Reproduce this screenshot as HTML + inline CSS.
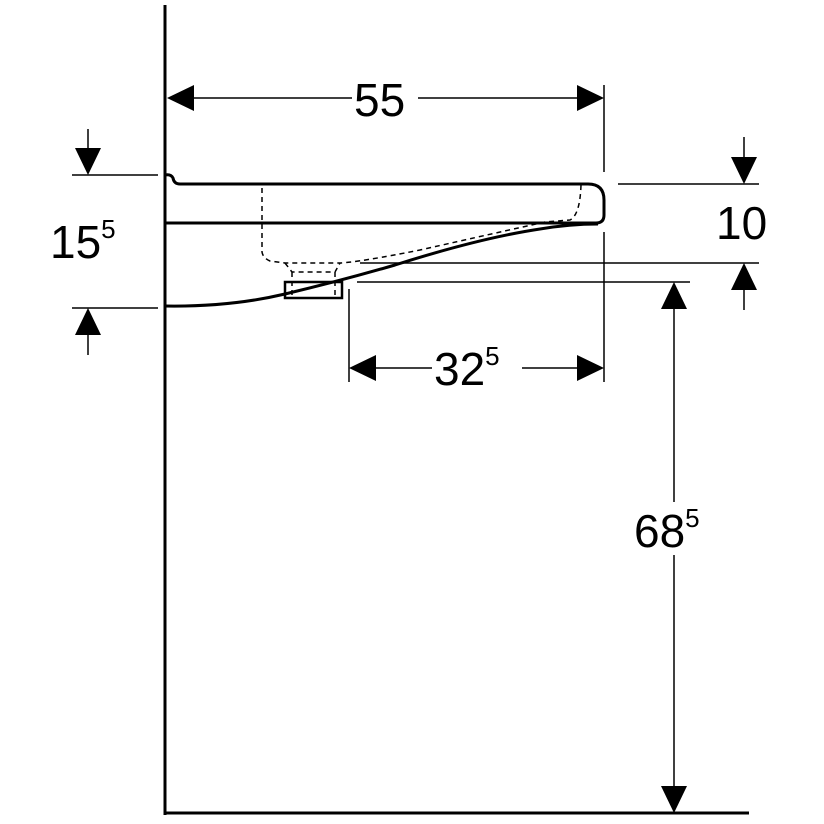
<!DOCTYPE html>
<html><head><style>html,body{margin:0;padding:0;background:#fff}svg{display:block}text{font-family:"Liberation Sans",sans-serif;fill:#000}</style></head>
<body>
<svg width="824" height="824" viewBox="0 0 824 824" xmlns="http://www.w3.org/2000/svg">
<g stroke="#000" fill="none">
<line x1="165" y1="5" x2="165" y2="815" stroke-width="3"/>
<line x1="164" y1="813" x2="749" y2="813" stroke-width="3"/>
<path d="M165 175 Q171 174 173 178 Q174 184 180 184 L588 184 Q604 184 604 200 L604 215 Q604 223 596 223 L165 223" stroke-width="3"/>
<path d="M165 306 Q230 307 285 294 Q340 281 395 265 Q480 238 540 229 Q570 224 598 224" stroke-width="3"/>
<rect x="285" y="282" width="57" height="16" stroke-width="2.5"/>
<g stroke-width="1.5" stroke-dasharray="5,4">
<path d="M262 188 L262 252 Q263 258 270 261 L285 263 L340 263 Q360 262 420 250 Q500 232 545 222 L570 220 Q580 215 581 185"/>
<path d="M285 263 L292 272 L335 272 L340 263"/>
<line x1="292" y1="272" x2="292" y2="298"/>
<line x1="335" y1="272" x2="335" y2="298"/>
</g>
<g stroke-width="1.5">
<line x1="604" y1="85" x2="604" y2="172"/>
<line x1="604" y1="232" x2="604" y2="382"/>
<line x1="72" y1="175" x2="158" y2="175"/>
<line x1="72" y1="308" x2="158" y2="308"/>
<line x1="618" y1="184" x2="759" y2="184"/>
<line x1="360" y1="263" x2="759" y2="263"/>
<line x1="357" y1="282" x2="690" y2="282"/>
<line x1="349" y1="289" x2="349" y2="382"/>
<line x1="190" y1="98" x2="352" y2="98"/>
<line x1="418" y1="98" x2="580" y2="98"/>
<line x1="88" y1="129" x2="88" y2="150"/>
<line x1="88" y1="332" x2="88" y2="355"/>
<line x1="744" y1="137" x2="744" y2="160"/>
<line x1="744" y1="288" x2="744" y2="310"/>
<line x1="372" y1="368" x2="432" y2="368"/>
<line x1="522" y1="368" x2="582" y2="368"/>
<line x1="674" y1="305" x2="674" y2="502"/>
<line x1="674" y1="555" x2="674" y2="790"/>
</g>
</g>
<g fill="#000">
<polygon points="167,98 194,85 194,111"/>
<polygon points="604,98 577,85 577,111"/>
<polygon points="88,175 75,148 101,148"/>
<polygon points="88,308 75,335 101,335"/>
<polygon points="744,184 731,157 757,157"/>
<polygon points="744,263 731,290 757,290"/>
<polygon points="349,368 376,355 376,381"/>
<polygon points="604,368 577,355 577,381"/>
<polygon points="674,282 661,309 687,309"/>
<polygon points="674,813 661,786 687,786"/>
</g>
<text x="354" y="116" font-size="46">55</text>
<text x="50" y="258" font-size="46">15<tspan font-size="26" dy="-20">5</tspan></text>
<text x="716" y="239" font-size="46">10</text>
<text x="434" y="385" font-size="46">32<tspan font-size="26" dy="-20">5</tspan></text>
<text x="634" y="547" font-size="46">68<tspan font-size="26" dy="-20">5</tspan></text>
</svg>
</body></html>
